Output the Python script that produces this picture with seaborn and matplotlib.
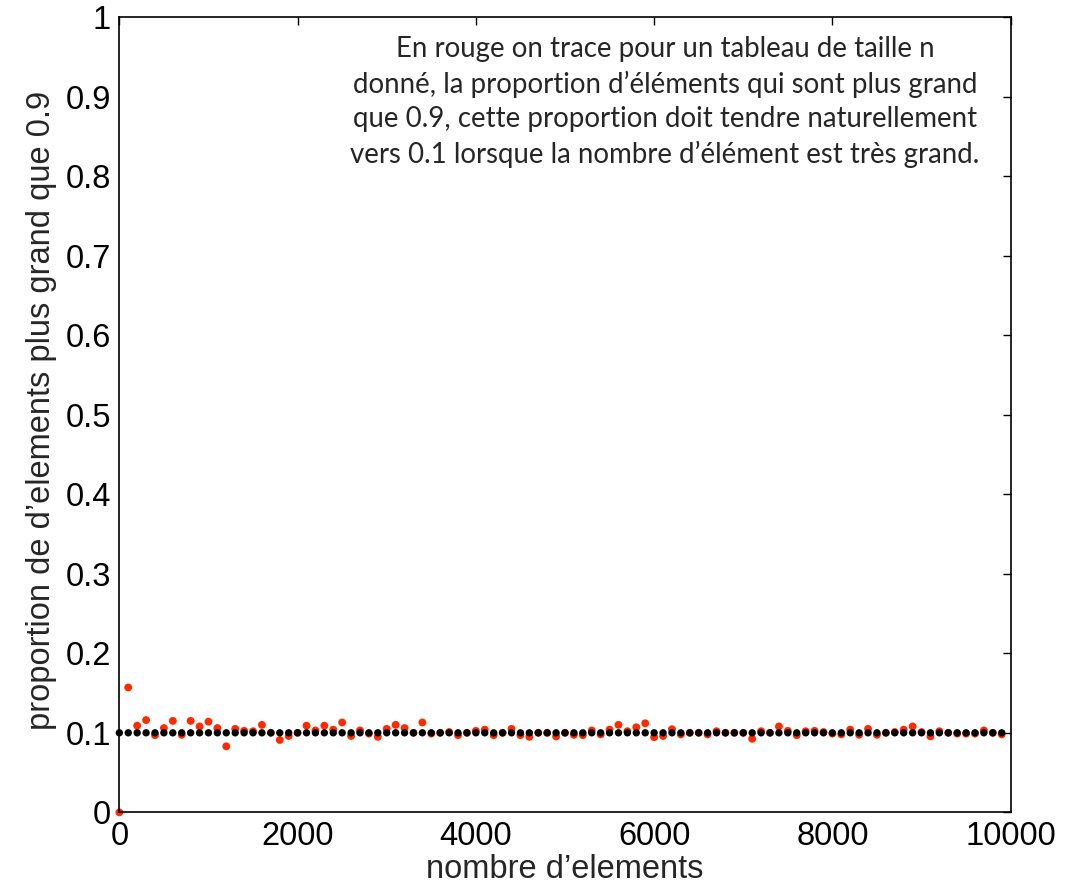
import matplotlib
matplotlib.use("Agg")
import matplotlib.pyplot as plt
import seaborn as sns
import numpy as np
import pandas as pd

# Data
n_elements = list(range(0, 10000, 100))
red_proportion = [
    0.000, 0.157, 0.109, 0.116, 0.097, 0.106, 0.115, 0.0975, 0.115, 0.108,
    0.114, 0.106, 0.083, 0.105, 0.1025, 0.102, 0.110, 0.100, 0.091, 0.096,
    0.100, 0.109, 0.103, 0.109, 0.104, 0.113, 0.096, 0.103, 0.099, 0.095,
    0.105, 0.110, 0.106, 0.100, 0.113, 0.099, 0.100, 0.101, 0.097, 0.100,
    0.1025, 0.104, 0.097, 0.100, 0.105, 0.097, 0.095, 0.100, 0.100, 0.0955,
    0.100, 0.0975, 0.097, 0.103, 0.098, 0.104, 0.110, 0.102, 0.107, 0.112,
    0.0945, 0.096, 0.1045, 0.098, 0.100, 0.100, 0.098, 0.102, 0.100, 0.100,
    0.100, 0.0925, 0.102, 0.100, 0.108, 0.1025, 0.097, 0.102, 0.1025, 0.101,
    0.099, 0.098, 0.104, 0.0975, 0.105, 0.0975, 0.100, 0.101, 0.104, 0.108,
    0.101, 0.0955, 0.102, 0.100, 0.099, 0.099, 0.099, 0.103, 0.100, 0.098,
]
black_proportion = [0.1] * len(n_elements)

x_ticks = [0, 2000, 4000, 6000, 8000, 10000]
y_ticks = [0, 0.1, 0.2, 0.3, 0.4, 0.5, 0.6, 0.7, 0.8, 0.9, 1]
y_tick_labels = ["0", "0.1", "0.2", "0.3", "0.4", "0.5", "0.6", "0.7", "0.8", "0.9", "1"]

annotation = ("En rouge on trace pour un tableau de taille n\n"
              "donné, la proportion d’éléments qui sont plus grand\n"
              "que 0.9, cette proportion doit tendre naturellement\n"
              "vers 0.1 lorsque la nombre d’élément est très grand.")

df = pd.DataFrame({"n": n_elements, "red": red_proportion, "black": black_proportion})

sns.set_style("white")
plt.rcParams["font.family"] = ["Liberation Sans", "DejaVu Sans"]

fig = plt.figure(figsize=(10.77, 8.92), dpi=100)
ax = fig.add_axes([0.1108, 0.0893, 0.8276, 0.8916])

sns.scatterplot(data=df, x="n", y="red", ax=ax, color="#ff2a00", s=32,
                edgecolor="none", linewidth=0, zorder=2)
sns.scatterplot(data=df, x="n", y="black", ax=ax, color="black", s=28,
                edgecolor="none", linewidth=0, zorder=3)

ax.set_xlim(0, 10000)
ax.set_ylim(0, 1)
ax.set_xticks(x_ticks)
ax.set_xticklabels([str(t) for t in x_ticks])
ax.set_yticks(y_ticks)
ax.set_yticklabels(y_tick_labels)

ax.tick_params(direction="in", length=6, width=1, top=True, right=True,
               labelsize=23.5, colors="black", pad=6)
for s in ax.spines.values():
    s.set_visible(True)
    s.set_color("black")
    s.set_linewidth(1.2)
    s.set_zorder(4)

ax.set_xlabel("nombre d’elements", fontsize=23.5, labelpad=2)
ax.set_ylabel("proportion de d’elements plus grand que 0.9", fontsize=23.5)
ax.yaxis.set_label_coords(-0.07, 0.505)

ax.text(0.612, 0.976, annotation, transform=ax.transAxes, ha="center", va="top",
        fontsize=19.9, family=["Lato", "DejaVu Sans"], linespacing=1.38)

for c in ax.collections:
    c.set_clip_on(False)

fig.savefig("out.png", dpi=100)
